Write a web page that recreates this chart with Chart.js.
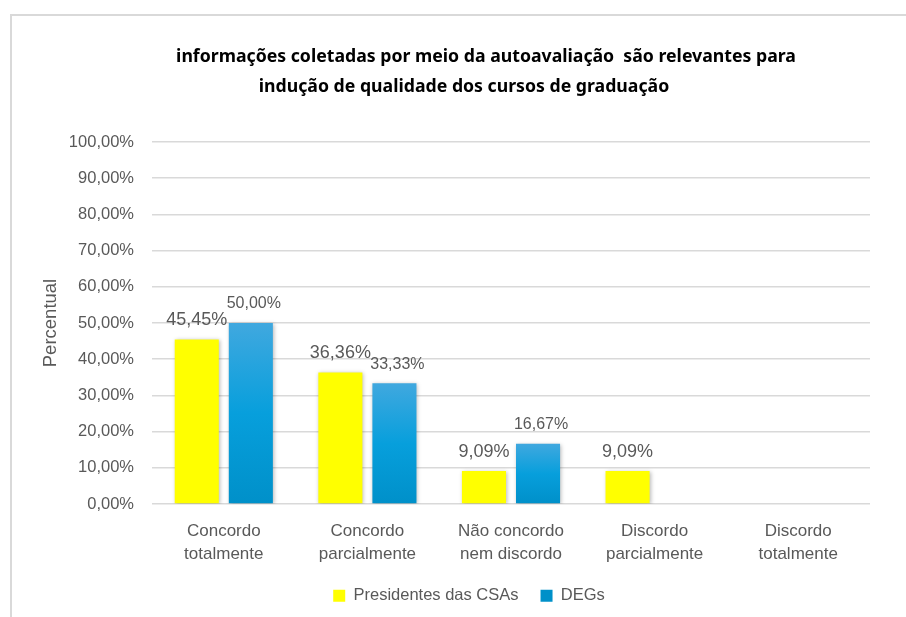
<!DOCTYPE html>
<html>
<head>
<meta charset="utf-8">
<script src="https://cdn.jsdelivr.net/npm/chart.js@4/dist/chart.umd.min.js"></script>
<style>
  html, body { margin: 0; padding: 0; overflow: hidden; background: #fff; }
  #frame { position: absolute; left: 10px; top: 14px; width: 940px; height: 640px; border: 2px solid #d9d9d9; }
  #wrap { position: absolute; left: 10px; top: 0; width: 918px; height: 617px; }
</style>
</head>
<body>
<div id="frame"></div>
<div id="wrap"><canvas id="chart"></canvas></div>
<script>
// Resposta: informações da autoavaliação e indução de qualidade
const categorias = [
  ['Concordo', 'totalmente'],
  ['Concordo', 'parcialmente'],
  ['Não concordo', 'nem discordo'],
  ['Discordo', 'parcialmente'],
  ['Discordo', 'totalmente']
];
const presidentesCSAs = [45.45, 36.36, 9.09, 9.09, 0];
const degs = [50.00, 33.33, 16.67, 0, 0];
const tituloLinhas = [
  'informações coletadas por meio da autoavaliação  são relevantes para',
  'indução de qualidade dos cursos de graduação'
];

const cinza = '#595959';
const fonte = '"Liberation Sans", Arial, sans-serif';
const pct = v => v.toFixed(2).replace('.', ',') + '%';

// gradiente azul por barra (claro no topo, escuro na base)
function azul(ctx) {
  const chart = ctx.chart;
  const y = chart.scales.y;
  if (!y || !chart.chartArea || ctx.parsed === undefined) return '#0A9EDB';
  const top = y.getPixelForValue(ctx.parsed.y);
  const bottom = y.getPixelForValue(0);
  if (!(bottom > top)) return '#0A9EDB';
  const g = chart.ctx.createLinearGradient(0, top, 0, bottom);
  g.addColorStop(0, '#40A8DF');
  g.addColorStop(0.5, '#079FDC');
  g.addColorStop(1, '#0090C9');
  return g;
}

const tituloPlugin = {
  id: 'tituloPlugin',
  afterDraw(chart) {
    const c = chart.ctx;
    c.save();
    c.font = 'bold 17.7px "Noto Sans", sans-serif';
    c.fillStyle = '#000';
    c.textAlign = 'center';
    c.textBaseline = 'middle';
    c.fillText(tituloLinhas[0], 476, 56.5);
    c.fillText(tituloLinhas[1], 454, 87);
    c.restore();
  }
};

const sombraPlugin = {
  id: 'sombraPlugin',
  beforeDatasetsDraw(chart) {
    const c = chart.ctx;
    c.save();
    c.shadowColor = 'rgba(0,0,0,0.28)';
    c.shadowBlur = 4;
    c.shadowOffsetX = 1;
    c.shadowOffsetY = 1;
  },
  afterDatasetsDraw(chart) {
    chart.ctx.restore();
  }
};

const rotulosPlugin = {
  id: 'rotulosPlugin',
  afterDatasetsDraw(chart) {
    const c = chart.ctx;
    c.save();
    c.fillStyle = cinza;
    c.textAlign = 'center';
    c.textBaseline = 'middle';
    chart.data.datasets.forEach((ds, i) => {
      const meta = chart.getDatasetMeta(i);
      c.font = (i === 0 ? '18px ' : '16px ') + fonte;
      meta.data.forEach((bar, j) => {
        const v = ds.data[j];
        if (!v) return;
        c.fillText(pct(v), bar.x + (i === 0 ? 0 : 3), bar.y - 19);
      });
    });
    c.restore();
  }
};

new Chart(document.getElementById('chart'), {
  type: 'bar',
  data: {
    labels: categorias,
    datasets: [
      { label: 'Presidentes das CSAs', data: presidentesCSAs, backgroundColor: '#FFFF00', borderWidth: 0 },
      { label: 'DEGs', data: degs, backgroundColor: azul, borderWidth: 0 }
    ]
  },
  options: {
    responsive: true, maintainAspectRatio: false, animation: false,
    categoryPercentage: 0.753, barPercentage: 0.815,
    layout: { padding: { top: 142, bottom: 3, left: 0, right: 0 } },
    scales: {
      x: {
        grid: { display: false }, border: { display: false },
        ticks: { color: cinza, font: { family: fonte, size: 17, lineHeight: 1.35 }, padding: 7.5, maxRotation: 0, autoSkip: false },
        afterFit: s => { s.height = 61.5; }
      },
      y: {
        min: 0, max: 100,
        grid: { color: '#d9d9d9', lineWidth: 1.5, drawTicks: false },
        border: { display: false },
        ticks: { stepSize: 10, color: cinza, font: { family: fonte, size: 16.5 }, padding: 18, callback: v => pct(v) },
        title: { display: true, text: 'Percentual', color: cinza, font: { family: fonte, size: 18.5 }, padding: { top: 30, bottom: 0 } },
        afterFit: s => { s.width = 142; }
      },
      yR: {
        position: 'right', display: true,
        grid: { display: false }, border: { display: false }, ticks: { display: false },
        afterFit: s => { s.width = 58; }
      }
    },
    plugins: {
      legend: {
        position: 'bottom',
        labels: { color: cinza, boxWidth: 12, boxHeight: 12, padding: 22, font: { family: fonte, size: 16.5 } }
      },
      tooltip: { enabled: false }
    }
  },
  plugins: [tituloPlugin, sombraPlugin, rotulosPlugin]
});
</script>
</body>
</html>
